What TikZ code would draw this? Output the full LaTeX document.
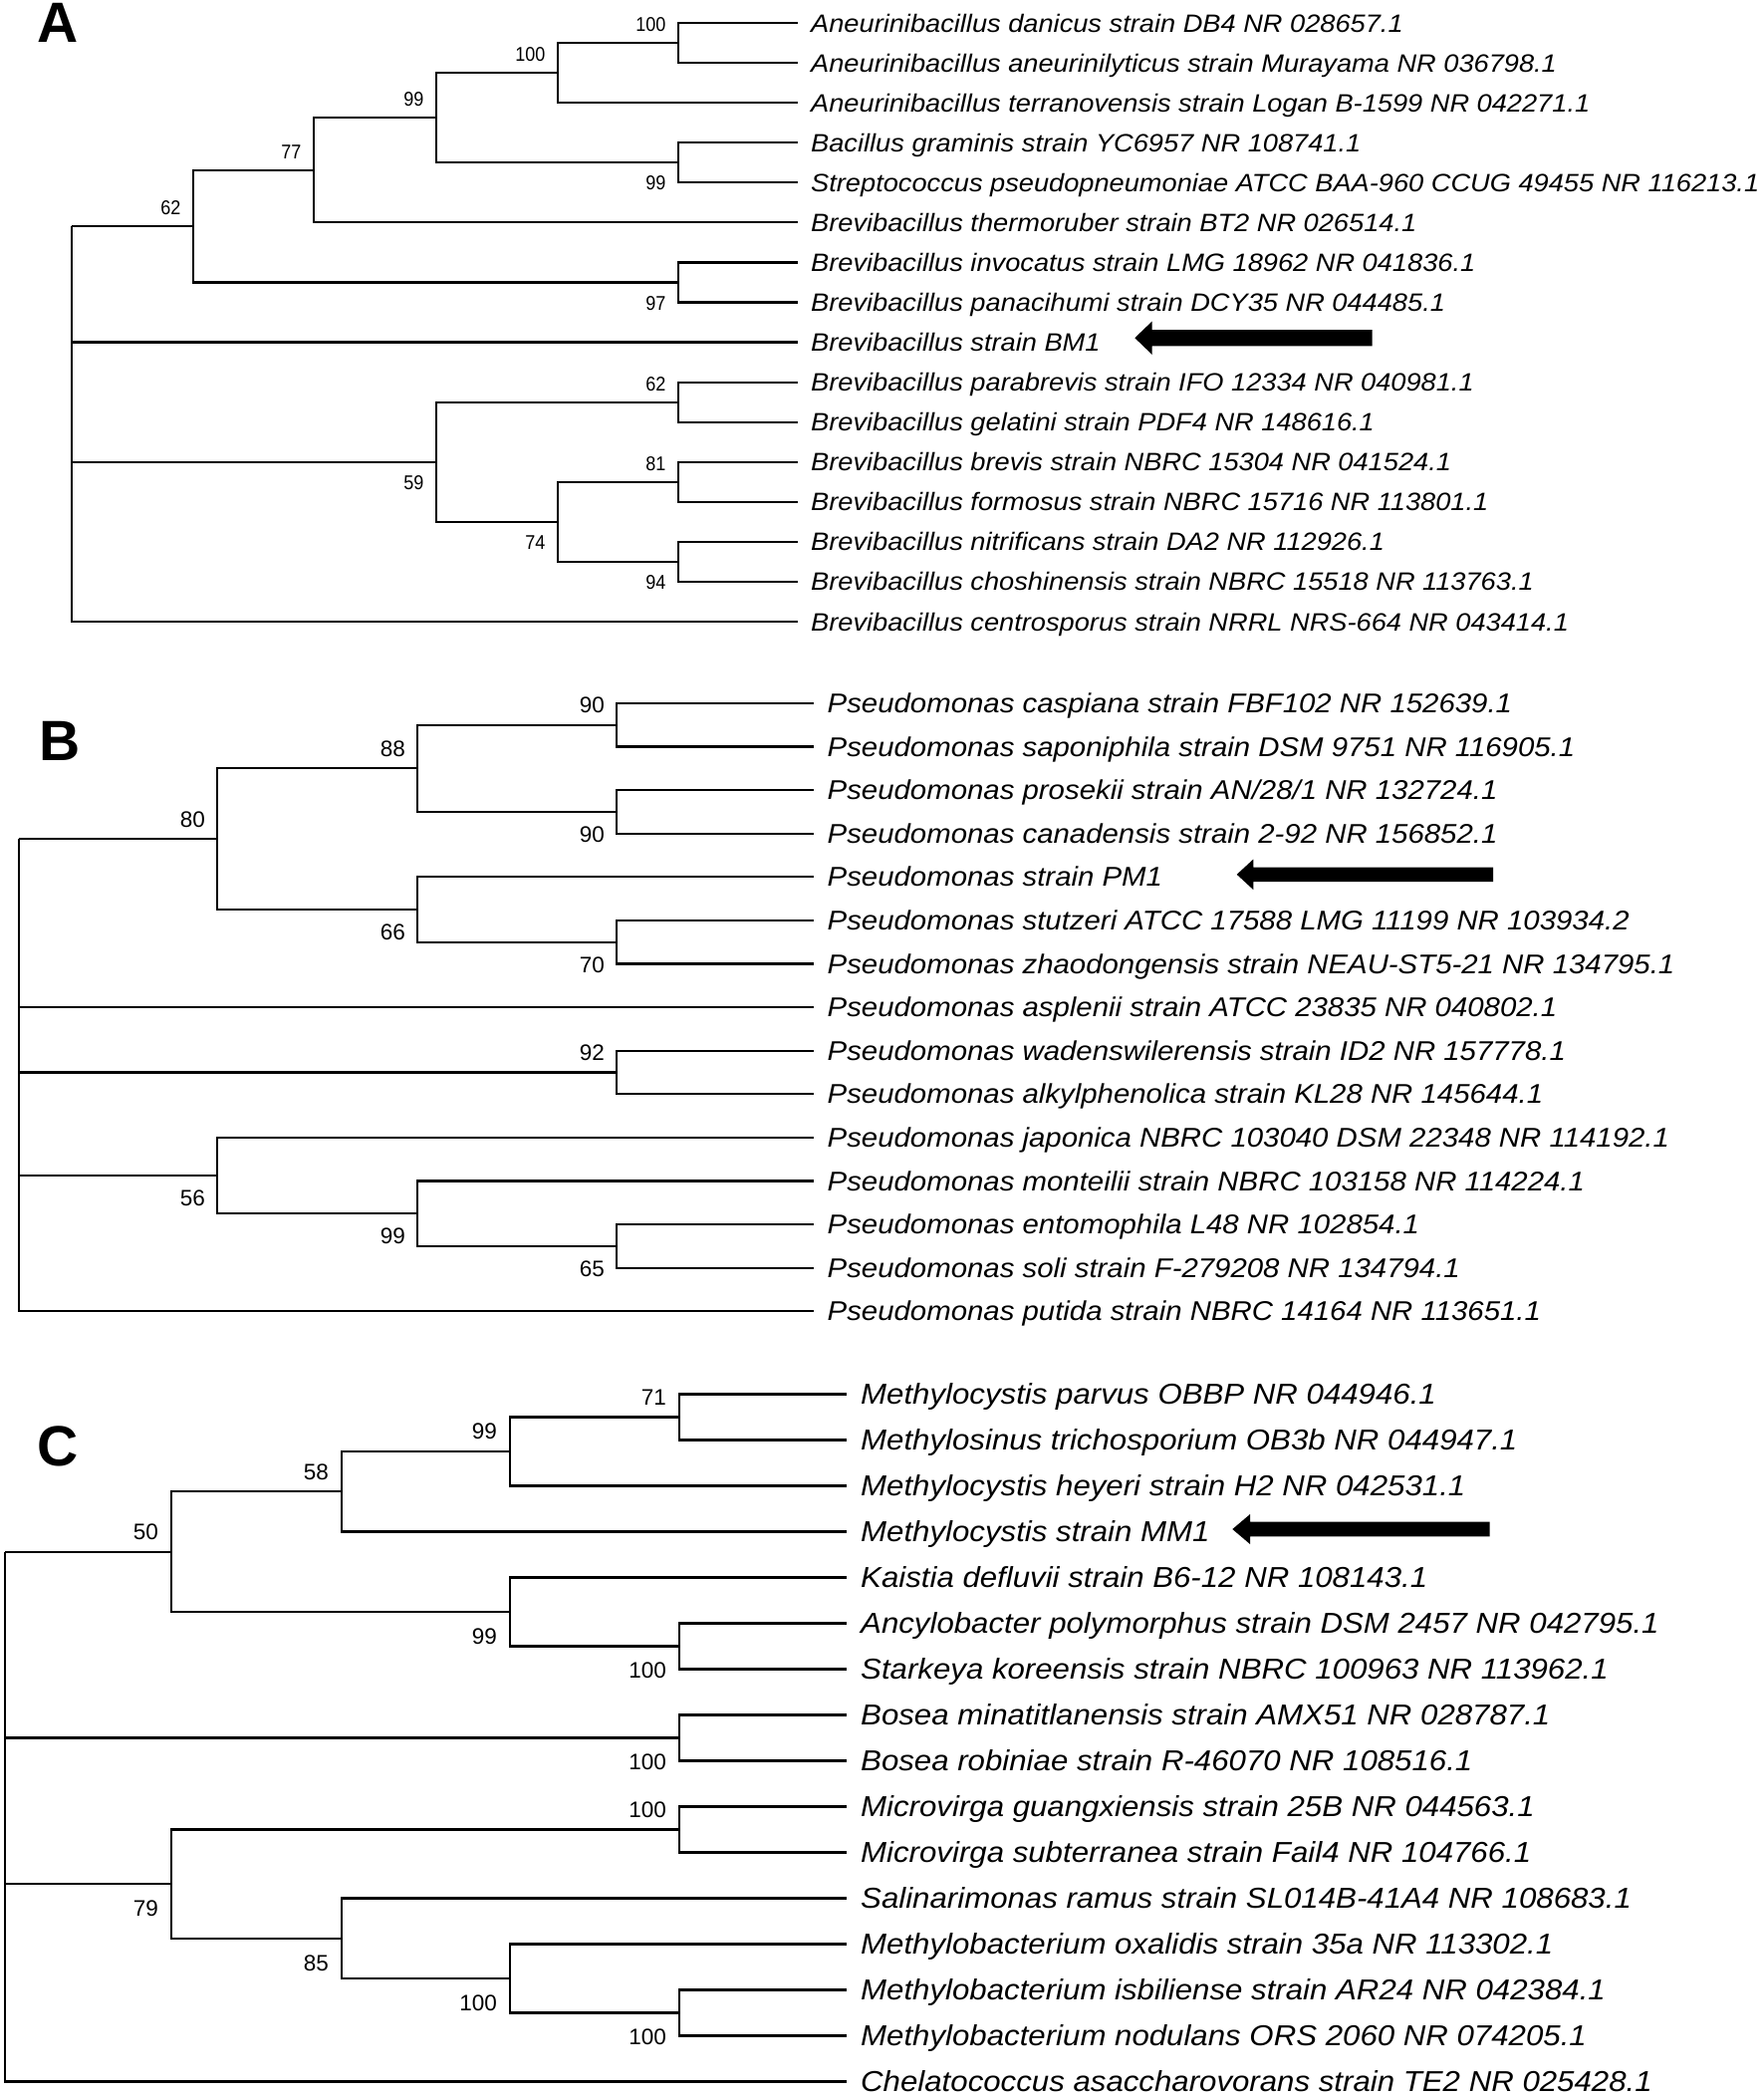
\documentclass[tikz,border=0pt]{standalone}
\usepackage{fontspec}
\setmainfont{Liberation Sans}
\newfontfamily\leaffont[FakeStretch=1.08]{Liberation Sans}
\newfontfamily\bsnarrow[FakeStretch=0.9]{Liberation Sans}
\tikzset{
  br/.style={line width=2.2pt},
  leafA/.style={font=\leaffont\itshape\fontsize{25.2}{30}\selectfont, anchor=base west, inner sep=0pt, yshift=-9pt},
  leafB/.style={font=\leaffont\itshape\fontsize{27.2}{32}\selectfont, anchor=base west, inner sep=0pt, yshift=-9.7pt},
  leafC/.style={font=\leaffont\itshape\fontsize{28.9}{34}\selectfont, anchor=base west, inner sep=0pt, yshift=-10.4pt},
  bsA/.style={font=\bsnarrow\fontsize{20}{24}\selectfont, inner sep=0pt, anchor=base east},
  upA/.style={bsA, xshift=-12.5pt, yshift=11.2pt},
  dnA/.style={bsA, xshift=-12.5pt, yshift=-27.6pt},
  bsB/.style={font=\fontsize{22.5}{27}\selectfont, inner sep=0pt, anchor=base east},
  upB/.style={bsB, xshift=-12pt, yshift=11.7pt},
  dnB/.style={bsB, xshift=-12pt, yshift=-30.4pt},
  upC/.style={bsB, xshift=-13pt, yshift=12.1pt},
  dnC/.style={bsB, xshift=-13pt, yshift=-32.3pt},
  panel/.style={font=\bfseries\fontsize{57}{60}\selectfont, inner sep=0pt},
}
\begin{document}
\begin{tikzpicture}[x=1pt,y=-1pt]
\useasboundingbox (0,0) rectangle (1770,2104);

% ---------------- Panel A ----------------
\node[panel] (labA) at (58,23) {A};
\begin{scope}[y=-40.07pt, shift={(0pt,-23pt)}]
\foreach \lbl [count=\idx from 0] in {
Aneurinibacillus danicus strain DB4 NR 028657.1,
Aneurinibacillus aneurinilyticus strain Murayama NR 036798.1,
Aneurinibacillus terranovensis strain Logan B-1599 NR 042271.1,
Bacillus graminis strain YC6957 NR 108741.1,
Streptococcus pseudopneumoniae ATCC BAA-960 CCUG 49455 NR 116213.1,
Brevibacillus thermoruber strain BT2 NR 026514.1,
Brevibacillus invocatus strain LMG 18962 NR 041836.1,
Brevibacillus panacihumi strain DCY35 NR 044485.1,
Brevibacillus strain BM1,
Brevibacillus parabrevis strain IFO 12334 NR 040981.1,
Brevibacillus gelatini strain PDF4 NR 148616.1,
Brevibacillus brevis strain NBRC 15304 NR 041524.1,
Brevibacillus formosus strain NBRC 15716 NR 113801.1,
Brevibacillus nitrificans strain DA2 NR 112926.1,
Brevibacillus choshinensis strain NBRC 15518 NR 113763.1,
Brevibacillus centrosporus strain NRRL NRS-664 NR 043414.1}{
  \coordinate (A-l\idx) at (801,\idx);
  \node[leafA] (A-t\idx) at (814,\idx) {\lbl};
}
\coordinate (A-a1) at (681,0.5);
\coordinate (A-a2) at (560,1.25);
\coordinate (A-a3) at (681,3.5);
\coordinate (A-a4) at (438,2.375);
\coordinate (A-a5) at (315,3.6875);
\coordinate (A-a6) at (681,6.5);
\coordinate (A-a7) at (194,5.09375);
\coordinate (A-a8) at (681,9.5);
\coordinate (A-a9) at (681,11.5);
\coordinate (A-a10) at (681,13.5);
\coordinate (A-a11) at (560,12.5);
\coordinate (A-a12) at (438,11);
\coordinate (A-r) at (72,5.09375);
\foreach \p/\c in {A-a1/A-l0, A-a1/A-l1, A-a2/A-a1, A-a2/A-l2, A-a3/A-l3, A-a3/A-l4,
  A-a4/A-a2, A-a4/A-a3, A-a5/A-a4, A-a5/A-l5, A-a6/A-l6, A-a6/A-l7, A-a7/A-a5, A-a7/A-a6,
  A-a8/A-l9, A-a8/A-l10, A-a9/A-l11, A-a9/A-l12, A-a10/A-l13, A-a10/A-l14,
  A-a11/A-a9, A-a11/A-a10, A-a12/A-a8, A-a12/A-a11,
  A-r/A-a7, A-r/A-l8, A-r/A-a12, A-r/A-l15}
  \draw[br] (\p) |- (\c);
\foreach \n/\v in {A-a1/100, A-a2/100, A-a4/99, A-a5/77, A-a7/62, A-a8/62, A-a9/81}
  \node[upA] (\n-bs) at (\n) {\v};
\foreach \n/\v in {A-a3/99, A-a6/97, A-a10/94, A-a11/74, A-a12/59}
  \node[dnA] (\n-bs) at (\n) {\v};
\end{scope}
\coordinate (A-arrow) at (1139.3,339.2);
\fill (A-arrow) -- ++(17.4,-16.7) -- ++(0,8.5) -- ++(221,0) -- ++(0,16.4) -- ++(-221,0) -- ++(0,8.6) -- cycle;

% ---------------- Panel B ----------------
\node[panel] (labB) at (60,744) {B};
\begin{scope}[y=-43.6pt, shift={(0pt,-705.8pt)}]
\foreach \lbl [count=\idx from 0] in {
Pseudomonas caspiana strain FBF102 NR 152639.1,
Pseudomonas saponiphila strain DSM 9751 NR 116905.1,
Pseudomonas prosekii strain AN/28/1 NR 132724.1,
Pseudomonas canadensis strain 2-92 NR 156852.1,
Pseudomonas strain PM1,
Pseudomonas stutzeri ATCC 17588 LMG 11199 NR 103934.2,
Pseudomonas zhaodongensis strain NEAU-ST5-21 NR 134795.1,
Pseudomonas asplenii strain ATCC 23835 NR 040802.1,
Pseudomonas wadenswilerensis strain ID2 NR 157778.1,
Pseudomonas alkylphenolica strain KL28 NR 145644.1,
Pseudomonas japonica NBRC 103040 DSM 22348 NR 114192.1,
Pseudomonas monteilii strain NBRC 103158 NR 114224.1,
Pseudomonas entomophila L48 NR 102854.1,
Pseudomonas soli strain F-279208 NR 134794.1,
Pseudomonas putida strain NBRC 14164 NR 113651.1}{
  \coordinate (B-l\idx) at (817,\idx);
  \node[leafB] (B-t\idx) at (830.5,\idx) {\lbl};
}
\coordinate (B-b1) at (619,0.5);
\coordinate (B-b2) at (619,2.5);
\coordinate (B-b3) at (419,1.5);
\coordinate (B-b4) at (619,5.5);
\coordinate (B-b5) at (419,4.75);
\coordinate (B-b6) at (218,3.125);
\coordinate (B-b7) at (619,8.5);
\coordinate (B-b8) at (619,12.5);
\coordinate (B-b9) at (419,11.75);
\coordinate (B-b10) at (218,10.875);
\coordinate (B-r) at (19,3.125);
\foreach \p/\c in {B-b1/B-l0, B-b1/B-l1, B-b2/B-l2, B-b2/B-l3, B-b3/B-b1, B-b3/B-b2,
  B-b4/B-l5, B-b4/B-l6, B-b5/B-l4, B-b5/B-b4, B-b6/B-b3, B-b6/B-b5,
  B-b7/B-l8, B-b7/B-l9, B-b8/B-l12, B-b8/B-l13, B-b9/B-l11, B-b9/B-b8,
  B-b10/B-l10, B-b10/B-b9,
  B-r/B-b6, B-r/B-l7, B-r/B-b7, B-r/B-b10, B-r/B-l14}
  \draw[br] (\p) |- (\c);
\foreach \n/\v in {B-b1/90, B-b3/88, B-b6/80, B-b7/92}
  \node[upB] (\n-bs) at (\n) {\v};
\foreach \n/\v in {B-b2/90, B-b4/70, B-b5/66, B-b8/65, B-b9/99, B-b10/56}
  \node[dnB] (\n-bs) at (\n) {\v};
\end{scope}
\coordinate (B-arrow) at (1241.7,877.8);
\fill (B-arrow) -- ++(16.6,-15.3) -- ++(0,8.1) -- ++(240.7,0) -- ++(0,14.4) -- ++(-240.7,0) -- ++(0,8.1) -- cycle;

% ---------------- Panel C ----------------
\node[panel] (labC) at (58,1452) {C};
\begin{scope}[y=-46pt, shift={(0pt,-1399.5pt)}]
\foreach \lbl [count=\idx from 0] in {
Methylocystis parvus OBBP NR 044946.1,
Methylosinus trichosporium OB3b NR 044947.1,
Methylocystis heyeri strain H2 NR 042531.1,
Methylocystis strain MM1,
Kaistia defluvii strain B6-12 NR 108143.1,
Ancylobacter polymorphus strain DSM 2457 NR 042795.1,
Starkeya koreensis strain NBRC 100963 NR 113962.1,
Bosea minatitlanensis strain AMX51 NR 028787.1,
Bosea robiniae strain R-46070 NR 108516.1,
Microvirga guangxiensis strain 25B NR 044563.1,
Microvirga subterranea strain Fail4 NR 104766.1,
Salinarimonas ramus strain SL014B-41A4 NR 108683.1,
Methylobacterium oxalidis strain 35a NR 113302.1,
Methylobacterium isbiliense strain AR24 NR 042384.1,
Methylobacterium nodulans ORS 2060 NR 074205.1,
Chelatococcus asaccharovorans strain TE2 NR 025428.1}{
  \coordinate (C-l\idx) at (850,\idx);
  \node[leafC] (C-t\idx) at (864,\idx) {\lbl};
}
\coordinate (C-c1) at (682,0.5);
\coordinate (C-c2) at (512,1.25);
\coordinate (C-c3) at (343,2.125);
\coordinate (C-c4) at (682,5.5);
\coordinate (C-c5) at (512,4.75);
\coordinate (C-c6) at (172,3.4375);
\coordinate (C-c7) at (682,7.5);
\coordinate (C-c8) at (682,9.5);
\coordinate (C-c9) at (682,13.5);
\coordinate (C-c10) at (512,12.75);
\coordinate (C-c11) at (343,11.875);
\coordinate (C-c12) at (172,10.6875);
\coordinate (C-r) at (5,3.4375);
\foreach \p/\c in {C-c1/C-l0, C-c1/C-l1, C-c2/C-c1, C-c2/C-l2, C-c3/C-c2, C-c3/C-l3,
  C-c4/C-l5, C-c4/C-l6, C-c5/C-l4, C-c5/C-c4, C-c6/C-c3, C-c6/C-c5,
  C-c7/C-l7, C-c7/C-l8, C-c8/C-l9, C-c8/C-l10, C-c9/C-l13, C-c9/C-l14,
  C-c10/C-l12, C-c10/C-c9, C-c11/C-l11, C-c11/C-c10, C-c12/C-c8, C-c12/C-c11,
  C-r/C-c6, C-r/C-c7, C-r/C-c12, C-r/C-l15}
  \draw[br] (\p) |- (\c);
\foreach \n/\v in {C-c1/71, C-c2/99, C-c3/58, C-c6/50, C-c8/100}
  \node[upC] (\n-bs) at (\n) {\v};
\foreach \n/\v in {C-c4/100, C-c5/99, C-c7/100, C-c9/100, C-c10/100, C-c11/85, C-c12/79}
  \node[dnC] (\n-bs) at (\n) {\v};
\end{scope}
\coordinate (C-arrow) at (1237.3,1535);
\fill (C-arrow) -- ++(17.7,-15) -- ++(0,7.7) -- ++(240.7,0) -- ++(0,14.6) -- ++(-240.7,0) -- ++(0,7.7) -- cycle;
\end{tikzpicture}
\end{document}
